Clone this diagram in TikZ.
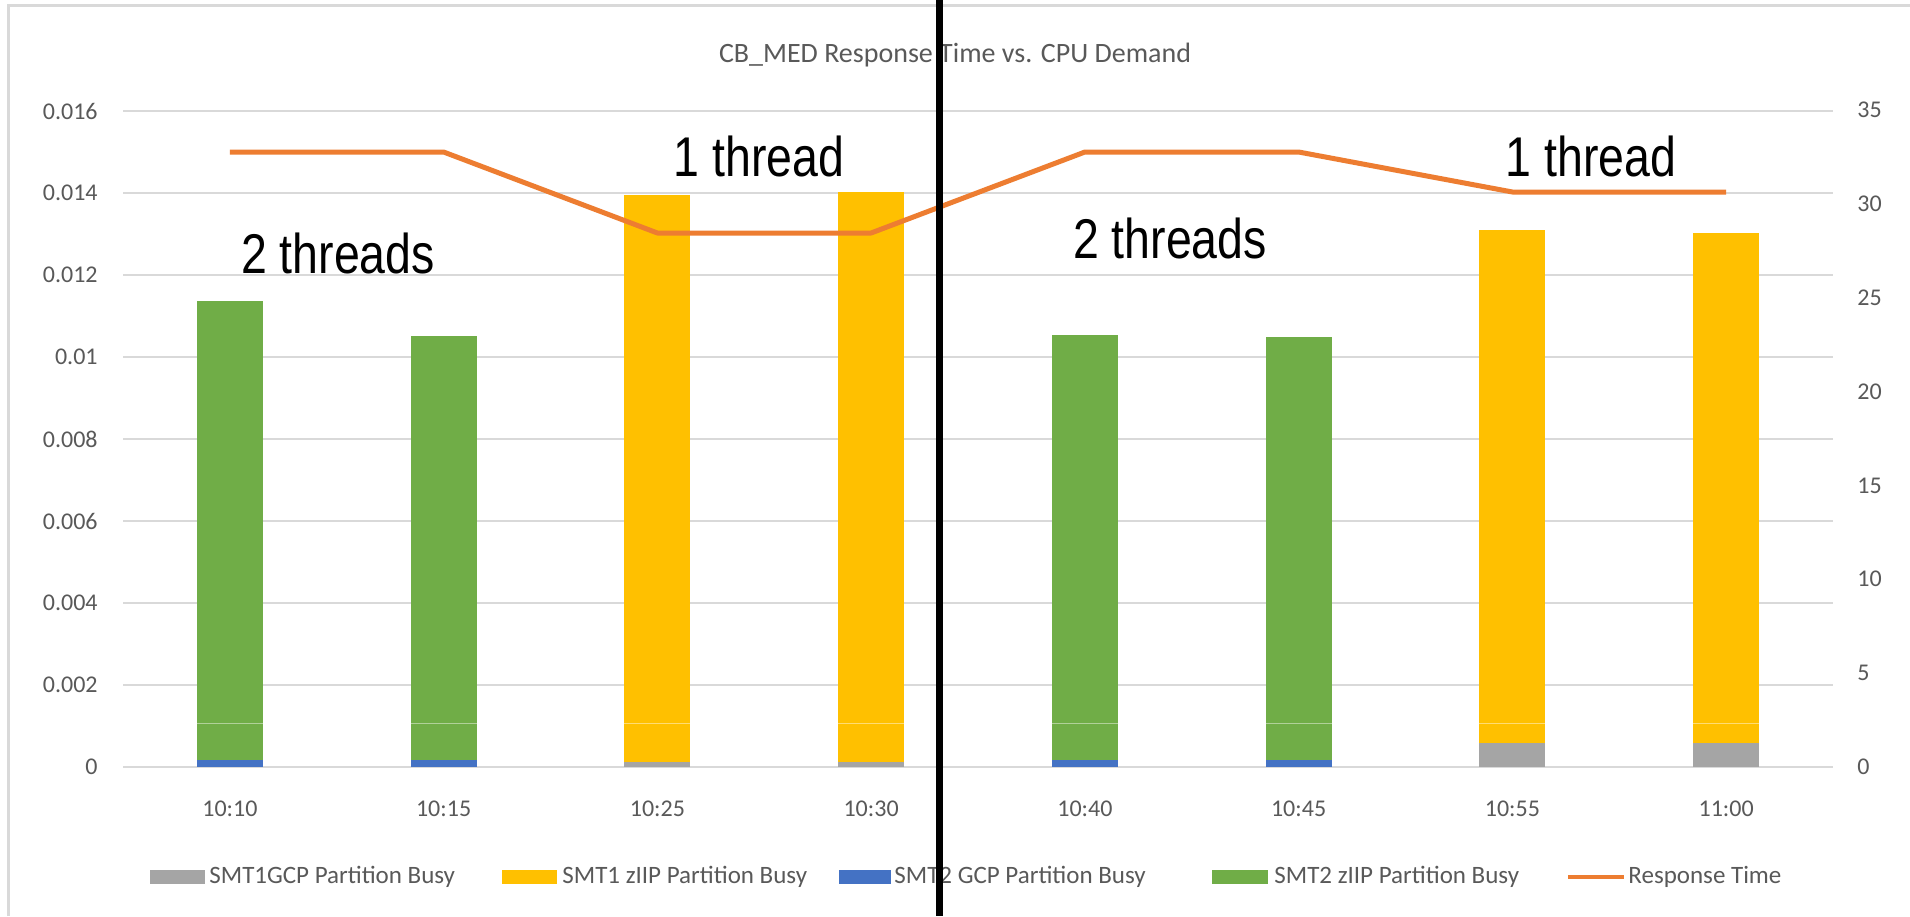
\documentclass[tikz,border=0pt]{standalone}
\usepackage{fontspec}
\setmainfont{Carlito}
\newfontfamily\arialfont{Liberation Sans}
\definecolor{gcpgray}{HTML}{A5A5A5}
\definecolor{ziipyellow}{HTML}{FFC000}
\definecolor{gcpblue}{HTML}{4472C4}
\definecolor{ziipgreen}{HTML}{70AD47}
\definecolor{rtorange}{HTML}{ED7D31}
\definecolor{gridgray}{HTML}{D9D9D9}
\definecolor{labelgray}{HTML}{595959}
\newcommand\squeezed[1]{\scalebox{0.83}[1]{#1}}
\tikzset{
  grid line/.style={draw=gridgray, line width=0.6pt},
  axis label/.style={text=labelgray, font=\fontsize{12}{14}\selectfont, inner sep=0pt},
  legend label/.style={text=labelgray, font=\fontsize{12.5}{15}\selectfont, inner sep=0pt, anchor=west},
  thread label/.style={text=black, font=\arialfont\fontsize{28}{32}\selectfont, inner sep=0pt},
  bar sep/.style={draw=white, draw opacity=0.45, line width=0.5pt},
  rt line/.style={draw=rtorange, line width=2.5pt, line join=round},
}
\begin{document}
\begin{tikzpicture}[x=0.5pt, y=-0.5pt]
\useasboundingbox (0,0) rectangle (1910,916);
\fill[white] (0,0) rectangle (1910,916);
% chart frame
\draw[draw=gridgray, line width=1.5pt] (8,916) -- (8,5) -- (1910,5);

% title
\node[text=labelgray, font=\fontsize{14}{17}\selectfont, inner sep=0pt] (title) at (955,55) {CB\_MED Response Time vs. CPU Demand};

% horizontal grid lines and left axis labels (0 .. 0.016)
\foreach \v/\lab [count=\i from 0] in {0/0, 1/0.002, 2/0.004, 3/0.006, 4/0.008, 5/0.01, 6/0.012, 7/0.014, 8/0.016} {
  \pgfmathsetmacro\yy{767-82*\v}
  \draw[grid line] (123,\yy) -- (1833,\yy);
  \node[axis label, anchor=east] (yl\i) at (98,\yy) {\lab};
}
% right axis labels (0 .. 35)
\foreach \v [count=\i from 0] in {0,5,10,15,20,25,30,35} {
  \pgfmathsetmacro\yy{767-93.86*\v/5}
  \node[axis label, anchor=west] (yr\i) at (1857,\yy) {\v};
}

% stacked bars: centre x / top y / bottom segment colour / bottom segment top y / main colour
\foreach \cx/\top/\bc/\bt/\mc/\lab [count=\i] in {
  229.9/301/gcpblue/760/ziipgreen/10:10,
  443.6/336/gcpblue/760/ziipgreen/10:15,
  657.4/195/gcpgray/762/ziipyellow/10:25,
  871.1/192/gcpgray/762/ziipyellow/10:30,
  1084.9/335/gcpblue/760/ziipgreen/10:40,
  1298.6/337/gcpblue/760/ziipgreen/10:45,
  1512.4/230/gcpgray/743/ziipyellow/10:55,
  1726.1/233/gcpgray/743/ziipyellow/11:00} {
  \fill[\mc] (\cx-33,\top) rectangle (\cx+33,\bt);
  \fill[\bc] (\cx-33,\bt) rectangle (\cx+33,767);
  \draw[bar sep] (\cx-33,723) -- (\cx+33,723);
  \node[axis label] (xl\i) at (\cx,809) {\lab};
}

% response time series
\draw[rt line] (229.9,152) -- (443.6,152) -- (657.4,233) -- (871.1,233)
  -- (1084.9,152) -- (1298.6,152) -- (1512.4,192) -- (1726.1,192);

% annotations
\node[thread label] (t1a) at (759,156) {\squeezed{1 thread}};
\node[thread label] (t2a) at (338,253) {\squeezed{2 threads}};
\node[thread label] (t2b) at (1170,238) {\squeezed{2 threads}};
\node[thread label] (t1b) at (1591,156) {\squeezed{1 thread}};

% legend
\fill[gcpgray] (150,870) rectangle (205,884);
\node[legend label] (lg1) at (209,877) {SMT1GCP Partition Busy};
\fill[ziipyellow] (502,870) rectangle (557,884);
\node[legend label] (lg2) at (562,877) {SMT1 zIIP Partition Busy};
\fill[gcpblue] (839,870) rectangle (891,884);
\node[legend label] (lg3) at (894,877) {SMT2 GCP Partition Busy};
\fill[ziipgreen] (1212,870) rectangle (1268,884);
\node[legend label] (lg4) at (1274,877) {SMT2 zIIP Partition Busy};
\draw[draw=rtorange, line width=2pt] (1568,877) -- (1624,877);
\node[legend label] (lg5) at (1628,877) {Response Time};

% dividing line between the two runs
\draw[black, line width=3.5pt] (939.5,0) -- (939.5,916);
\end{tikzpicture}
\end{document}
